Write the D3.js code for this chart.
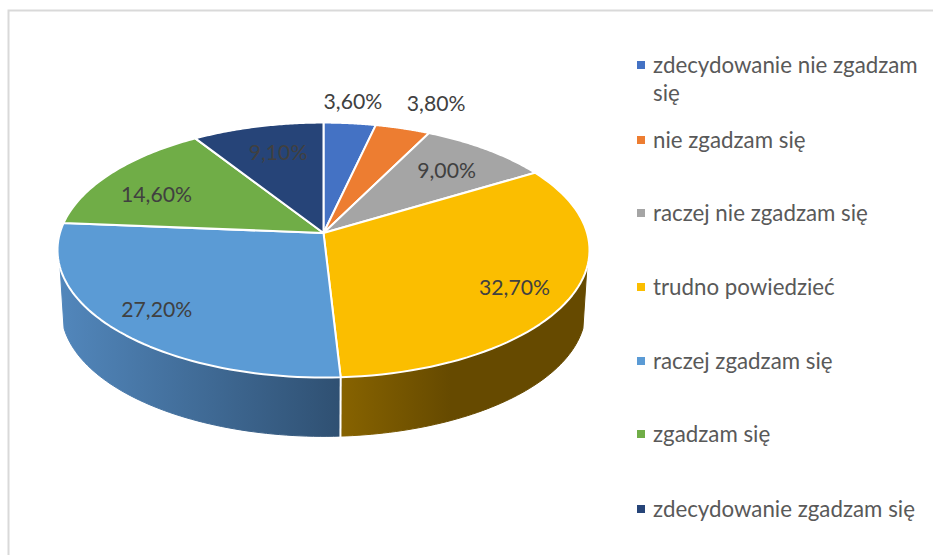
<!DOCTYPE html>
<html>
<head>
<meta charset="utf-8">
<script src="https://cdn.jsdelivr.net/npm/d3@7"></script>
<style>
	html, body { margin: 0; padding: 0; background: #fff; }
	svg { display: block; }
	text { font-family: Lato, "Open Sans", sans-serif; }
</style>
</head>
<body>
<svg id="chart" width="933" height="555"></svg>
<script>
var categories = ['zdecydowanie nie zgadzam się', 'nie zgadzam się', 'raczej nie zgadzam się', 'trudno powiedzieć', 'raczej zgadzam się', 'zgadzam się', 'zdecydowanie zgadzam się'];
var values = [3.6, 3.8, 9.0, 32.7, 27.2, 14.6, 9.1];
var labels = ['3,60%', '3,80%', '9,00%', '32,70%', '27,20%', '14,60%', '9,10%'];
var colors = ['#4472c4', '#ed7d31', '#a5a5a5', '#fbbe00', '#5b9bd5', '#70ad47', '#264478'];
var wallStops = [null, null, null, ['#876300', '#664a00'], ['#5287bc', '#2f5072'], null, null];
// where each label sits: fraction of the radius and a turn away from the slice middle (degrees)
var labelRadius = [1.225, 1.295, 0.73, 0.80, 0.815, 0.735, 0.725];
var labelTurn = [-0.4, 2.7, 0.4, 3.3, 0.1, -5, 1.3];
var legendLines = [[categories[0].slice(0, 24), 'się'], [categories[1]], [categories[2]], [categories[3]], [categories[4]], [categories[5]], [categories[6]]];
var legendY = d3.scaleOrdinal().domain(categories).range([65, 140, 213, 287, 361, 434, 509]);

var svg = d3.select('#chart');

// tilted disc, drawn with a small perspective so the centre sits above the middle of the ellipse
var cx = 323.5, cy = 233, rx = 263.6, ry = 125.2, persp = 0.1338;
var depth = 61, lowerScale = 0.985;
// the wall only runs this far either side of the front of the disc
var wallFront = 74.4 * Math.PI / 180;

function project(angle, r, lower) {
	var u = r * Math.sin(angle), v = -r * Math.cos(angle);
	var w = 1 - persp * v;
	var s = lower ? lowerScale : 1;
	return [cx + s * rx * u / w, cy + (lower ? depth : 0) + s * ry * v / w];
}

function rim(a0, a1, lower) {
	return d3.range(0, 61).map(function(i) {
		return project(a0 + (a1 - a0) * i / 60, 1, lower);
	});
}

var line = d3.line();
var arcs = d3.pie().sort(null)(values);
var walls = arcs.filter(function(d, i) { return wallStops[i]; });

// chart area frame
svg.append('rect')
	.attr('x', 8.5).attr('y', 10.5)
	.attr('width', 1000).attr('height', 1000)
	.attr('fill', 'none')
	.attr('stroke', '#d9d9d9')
	.attr('stroke-width', 2);

var defs = svg.append('defs');
walls.forEach(function(d) {
	var i = d.index;
	var xs = rim(d.startAngle, d.endAngle).map(function(p) { return p[0]; });
	var seam = project(d.endAngle, 1)[0];
	var grad = defs.append('linearGradient')
		.attr('id', 'wall' + i)
		.attr('gradientUnits', 'userSpaceOnUse')
		.attr('x1', i == 3 ? seam : d3.min(xs))
		.attr('x2', i == 3 ? seam + 110 : d3.max(xs))
		.attr('y1', 0).attr('y2', 0);
	grad.append('stop').attr('offset', 0).attr('stop-color', wallStops[i][0]);
	grad.append('stop').attr('offset', 1).attr('stop-color', wallStops[i][1]);
});

// side walls first, the top faces cover whatever is behind them
svg.append('g').selectAll('path')
	.data(walls)
	.enter().append('path')
		.attr('d', function(d) {
			var a0 = Math.max(d.startAngle, Math.PI - wallFront);
			var a1 = Math.min(d.endAngle, Math.PI + wallFront);
			var top = rim(a0, a1, false);
			var bottom = rim(a0, a1, true).reverse();
			return line(top.concat(bottom)) + 'Z';
		})
		.attr('fill', function(d) { return 'url(#wall' + d.index + ')'; })
		.attr('stroke', function(d) { return 'url(#wall' + d.index + ')'; })
		.attr('stroke-width', 1);

// white seam where the two walls meet
svg.append('line')
	.datum(walls[0].endAngle)
	.attr('x1', function(a) { return project(a, 1)[0]; })
	.attr('y1', function(a) { return project(a, 1)[1]; })
	.attr('x2', function(a) { return project(a, 1, true)[0]; })
	.attr('y2', function(a) { return project(a, 1, true)[1] + 1; })
	.attr('stroke', '#fff')
	.attr('stroke-width', 2);

svg.append('g').selectAll('path')
	.data(arcs)
	.enter().append('path')
		.attr('d', function(d) {
			return line([[cx, cy]].concat(rim(d.startAngle, d.endAngle))) + 'Z';
		})
		.attr('fill', function(d, i) { return colors[i]; })
		.attr('stroke', '#fff')
		.attr('stroke-width', 2)
		.attr('stroke-linejoin', 'round');

svg.append('g').selectAll('text')
	.data(arcs)
	.enter().append('text')
		.attr('transform', function(d, i) {
			var mid = (d.startAngle + d.endAngle) / 2 + labelTurn[i] * Math.PI / 180;
			return 'translate(' + project(mid, labelRadius[i]) + ')';
		})
		.attr('text-anchor', 'middle')
		.attr('dy', '0.35em')
		.attr('font-size', 21.2)
		.attr('fill', '#404040')
		.text(function(d, i) { return labels[i]; });

var legend = svg.append('g').selectAll('g')
	.data(categories)
	.enter().append('g')
		.attr('transform', function(d) { return 'translate(637,' + legendY(d) + ')'; });

legend.append('rect')
	.attr('y', -4)
	.attr('width', 8)
	.attr('height', 8)
	.attr('fill', function(d, i) { return colors[i]; });

legend.each(function(d, i) {
	d3.select(this).selectAll('text')
		.data(legendLines[i])
		.enter().append('text')
			.attr('x', 16)
			.attr('y', function(t, j) { return j * 28; })
			.attr('dy', '0.35em')
			.attr('font-size', 22.3)
			.attr('fill', '#595959')
			.text(function(t) { return t; });
});
</script>
</body>
</html>
